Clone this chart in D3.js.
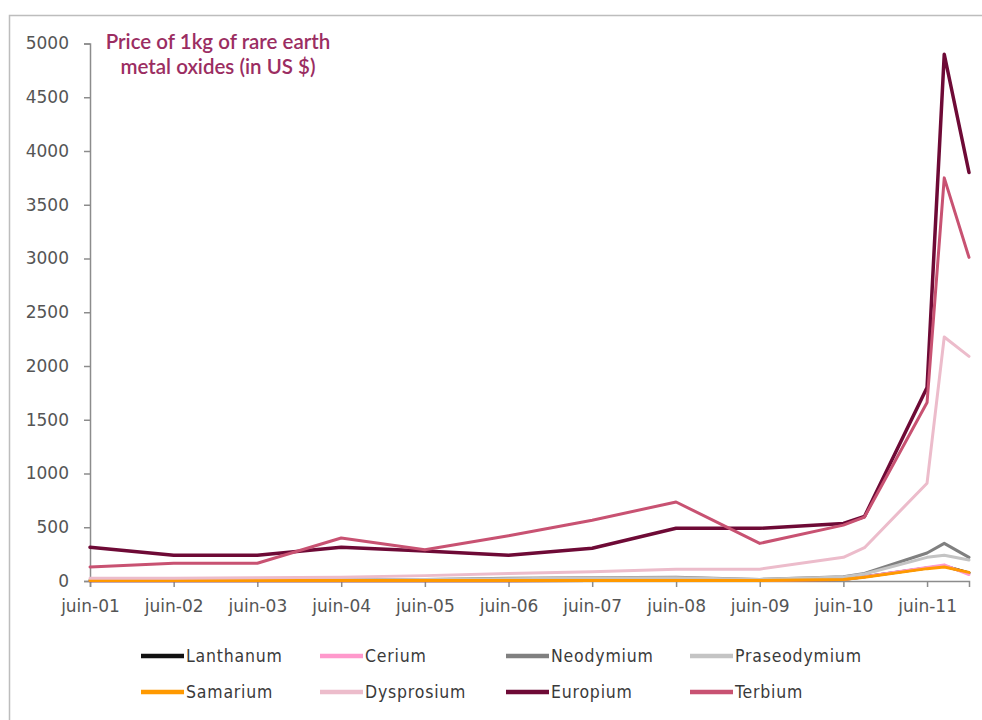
<!DOCTYPE html>
<html>
<head>
<meta charset="utf-8">
<script src="https://cdn.jsdelivr.net/npm/d3@7"></script>
<style>
  html, body { margin: 0; padding: 0; background: #fff; }
  #chart { width: 982px; height: 720px; }
</style>
</head>
<body>
<div id="chart"></div>
<script>
// observation dates (yearly in June, then denser at the end)
const dates = ["2001-06-01", "2002-06-01", "2003-06-01", "2004-06-01", "2005-06-01",
    "2006-06-01", "2007-06-01", "2008-06-01", "2009-06-01", "2010-06-01",
    "2010-09-01", "2011-06-01", "2011-08-15", "2011-12-01"];

const lanthanum    = [3, 3, 3, 3, 3, 3, 4, 8, 5, 14, 40, 120, 140, 75];
const cerium       = [3, 3, 3, 3, 3, 3, 4, 6, 4, 14, 40, 125, 150, 60];
const neodymium    = [8, 8, 8, 10, 15, 25, 30, 35, 15, 40, 70, 260, 350, 220];
const praseodymium = [8, 8, 8, 10, 15, 22, 28, 30, 15, 38, 65, 220, 240, 195];
const samarium     = [4, 4, 4, 4, 5, 5, 5, 5, 4, 14, 35, 115, 130, 80];
const dysprosium   = [25, 25, 30, 35, 50, 70, 85, 110, 110, 220, 310, 910, 2270, 2090];
const europium     = [315, 240, 240, 315, 280, 240, 305, 490, 490, 535, 600, 1800, 4900, 3800];
const terbium      = [130, 165, 165, 400, 290, 420, 565, 735, 350, 520, 595, 1660, 3750, 3010];

const seriesNames = ["Lanthanum", "Cerium", "Neodymium", "Praseodymium",
    "Samarium", "Dysprosium", "Europium", "Terbium"];
const seriesColors = ["#111111", "#ff99cc", "#808080", "#c4c4c4",
    "#ff9900", "#ecbccb", "#6e0a36", "#c85272"];

const yTicks = [0, 500, 1000, 1500, 2000, 2500, 3000, 3500, 4000, 4500, 5000];
const xTickLabels = ["juin-01", "juin-02", "juin-03", "juin-04", "juin-05", "juin-06",
    "juin-07", "juin-08", "juin-09", "juin-10", "juin-11"];

const titleLines = ["Price of 1kg of rare earth", "metal oxides (in US $)"];

const Chart = (() => {
    const width = 982;
    const height = 720;
    const parse = d3.timeParse("%Y-%m-%d");
    const values = [lanthanum, cerium, neodymium, praseodymium, samarium, dysprosium, europium, terbium];
    const series = seriesNames.map((name, i) => ({
        name,
        color: seriesColors[i],
        points: dates.map((d, j) => ({ date: parse(d), value: values[i][j] }))
    }));

    const svg = d3.select("#chart")
        .append("svg")
        .attr("width", width)
        .attr("height", height);

    function render() {
        // outer frame
        svg.append("rect")
            .attr("x", 9.5).attr("y", 15.5)
            .attr("width", width + 10).attr("height", height + 10)
            .attr("fill", "#fff")
            .attr("stroke", "#bdbdbd")
            .attr("stroke-width", 1.5);

        const x = d3.scaleTime()
            .domain([parse("2001-06-01"), parse("2011-12-01")])
            .range([90, 969]);
        const y = d3.scaleLinear()
            .domain([0, 5000])
            .range([581, 43.5]);

        // y axis
        const yAxis = svg.append("g")
            .attr("transform", "translate(90,0)")
            .call(d3.axisLeft(y).tickValues(yTicks).tickSize(6).tickPadding(15).tickFormat(d3.format("d")));
        _styleAxis(yAxis);

        // x axis
        const xTickDates = xTickLabels.map((t, i) => parse(`${2001 + i}-06-01`));
        const xAxis = svg.append("g")
            .attr("transform", "translate(0,581)")
            .call(d3.axisBottom(x).tickValues(xTickDates).tickSize(6).tickPadding(13)
                .tickFormat((d, i) => xTickLabels[i]));
        _styleAxis(xAxis);

        // lines
        const line = d3.line()
            .x(d => x(d.date))
            .y(d => y(d.value));

        svg.append("g")
            .selectAll("path")
            .data(series)
            .join("path")
            .attr("d", d => line(d.points))
            .attr("fill", "none")
            .attr("stroke", d => d.color)
            .attr("stroke-width", d => d.name === "Europium" ? 3.5 : 3)
            .attr("stroke-linejoin", "round")
            .attr("stroke-linecap", "round");

        // title
        svg.append("text")
            .attr("x", 218)
            .attr("y", 49)
            .attr("text-anchor", "middle")
            .attr("font-family", "Lato, sans-serif")
            .attr("font-size", 20.5)
            .attr("font-weight", 600)
            .attr("fill", "#9b2d62")
            .selectAll("tspan")
            .data(titleLines)
            .join("tspan")
            .attr("x", 218)
            .attr("dy", (d, i) => i === 0 ? 0 : 25)
            .text(d => d);

        // legend
        const colX = [141, 320, 506, 690];
        const rowY = [656, 692];
        const legend = svg.append("g")
            .selectAll("g")
            .data(series)
            .join("g")
            .attr("transform", (d, i) => `translate(${colX[i % 4]},${rowY[Math.floor(i / 4)]})`);

        legend.append("line")
            .attr("x1", 0).attr("x2", 43)
            .attr("stroke", d => d.color)
            .attr("stroke-width", 4.5);

        legend.append("text")
            .attr("x", 45)
            .attr("dy", "0.36em")
            .attr("font-family", "'DejaVu Sans Condensed', 'DejaVu Sans', sans-serif")
            .attr("font-size", 17.5)
            .attr("letter-spacing", 0.8)
            .attr("fill", "#3a3a3a")
            .text(d => d.name);
    }

    function _styleAxis(g) {
        g.select(".domain").attr("stroke", "#8c8c8c").attr("stroke-width", 1.5);
        g.selectAll(".tick line").attr("stroke", "#8c8c8c").attr("stroke-width", 1.5);
        g.selectAll(".tick text")
            .attr("font-family", "'DejaVu Sans', sans-serif")
            .attr("font-size", 17)
            .attr("fill", "#555");
    }

    return { render };
})();

Chart.render();
</script>
</body>
</html>
